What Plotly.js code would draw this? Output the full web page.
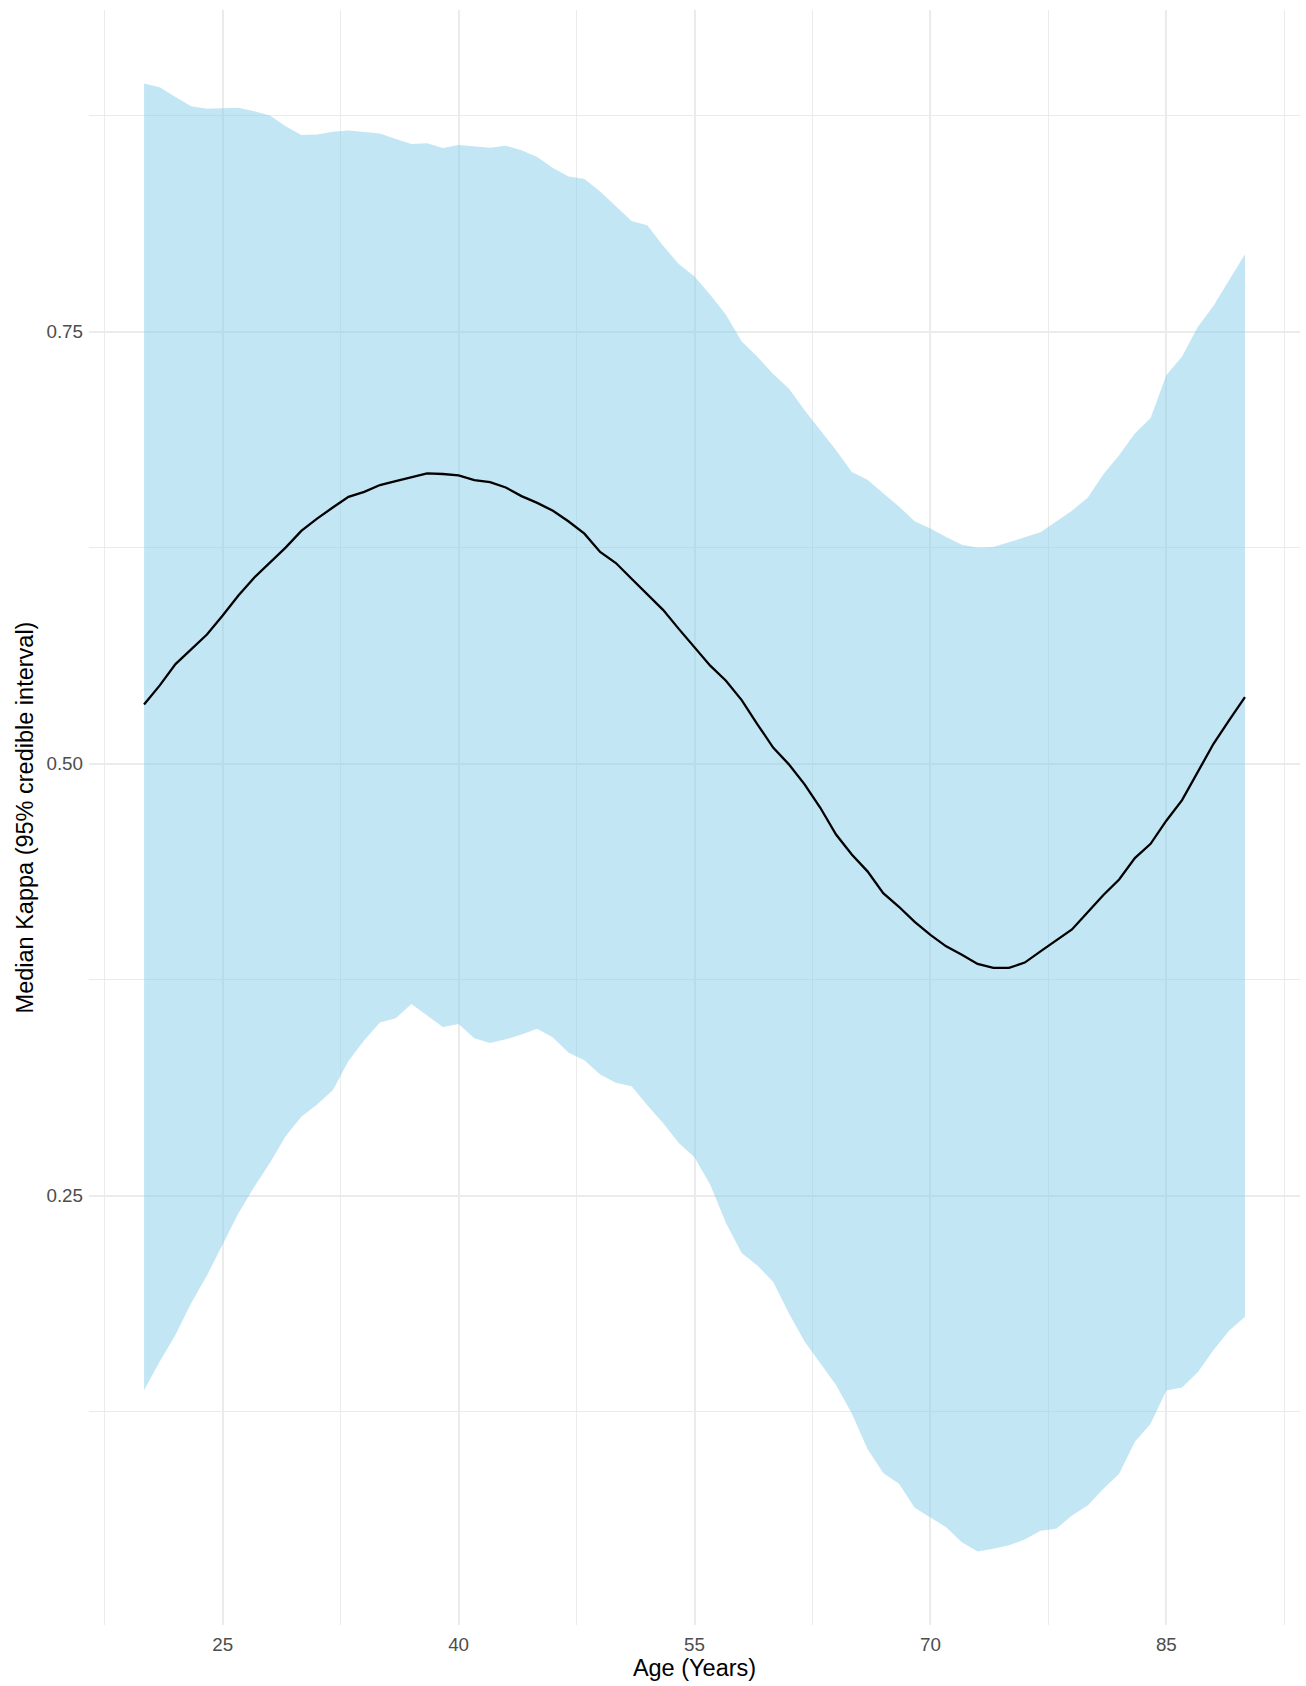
<!DOCTYPE html>
<html>
<head>
<meta charset="utf-8">
<script src="https://cdn.plot.ly/plotly-3.0.1.min.js"></script>
<style>
  html, body { margin: 0; padding: 0; background: #ffffff; }
  #chart { width: 1306px; height: 1686px; }
</style>
</head>
<body>
<div id="chart"></div>
<script>
// Age (years)
const ages = [20,21,22,23,24,25,26,27,28,29,30,31,32,33,34,35,36,37,38,39,40,
  41,42,43,44,45,46,47,48,49,50,51,52,53,54,55,56,57,58,59,60,
  61,62,63,64,65,66,67,68,69,70,71,72,73,74,75,76,77,78,79,80,
  81,82,83,84,85,86,87,88,89,90];

// Median kappa
const medianKappa = [0.5342,0.5453,0.5576,0.5660,0.5747,0.5857,0.5973,0.6076,0.6161,0.6250,0.6347,
  0.6418,0.6482,0.6544,0.6573,0.6612,0.6635,0.6656,0.6680,0.6676,0.6668,
  0.6641,0.6629,0.6598,0.6548,0.6509,0.6463,0.6401,0.6331,0.6225,0.6161,
  0.6070,0.5980,0.5890,0.5780,0.5673,0.5567,0.5480,0.5368,0.5228,0.5093,
  0.4996,0.4880,0.4745,0.4590,0.4474,0.4377,0.4251,0.4172,0.4085,0.4009,
  0.3943,0.3895,0.3841,0.3818,0.3818,0.3849,0.3914,0.3976,0.4041,0.4140,
  0.4240,0.4330,0.4454,0.4536,0.4670,0.4789,0.4950,0.5115,0.5252,0.5385];

// 95% credible interval, upper bound
const upperCI = [0.8936,0.8914,0.8858,0.8804,0.8789,0.8793,0.8795,0.8775,0.8750,0.8688,0.8638,
  0.8640,0.8657,0.8663,0.8653,0.8646,0.8615,0.8586,0.8590,0.8562,0.8580,
  0.8574,0.8564,0.8576,0.8549,0.8510,0.8446,0.8398,0.8383,0.8311,0.8224,
  0.8140,0.8115,0.7997,0.7891,0.7819,0.7713,0.7597,0.7442,0.7355,0.7254,
  0.7171,0.7045,0.6929,0.6813,0.6687,0.6643,0.6565,0.6488,0.6403,0.6361,
  0.6312,0.6267,0.6250,0.6254,0.6281,0.6310,0.6339,0.6401,0.6464,0.6538,
  0.6674,0.6784,0.6910,0.7000,0.7247,0.7356,0.7527,0.7649,0.7802,0.7947];

// 95% credible interval, lower bound
const lowerCI = [0.1374,0.1541,0.1696,0.1880,0.2038,0.2219,0.2399,0.2551,0.2690,0.2844,0.2957,
  0.3028,0.3110,0.3280,0.3400,0.3502,0.3527,0.3609,0.3545,0.3477,0.3493,
  0.3411,0.3384,0.3405,0.3433,0.3466,0.3415,0.3328,0.3284,0.3202,0.3154,
  0.3134,0.3024,0.2921,0.2805,0.2722,0.2564,0.2342,0.2168,0.2096,0.2003,
  0.1820,0.1656,0.1530,0.1405,0.1240,0.1035,0.0896,0.0834,0.0695,0.0637,
  0.0582,0.0495,0.0441,0.0457,0.0478,0.0511,0.0561,0.0573,0.0650,0.0708,
  0.0805,0.0892,0.1076,0.1180,0.1373,0.1391,0.1478,0.1608,0.1720,0.1800];

const xTickVals = [25, 40, 55, 70, 85];
const yTickVals = [0.25, 0.50, 0.75];
const yTickText = ["0.25", "0.50", "0.75"];

// ggplot-like 5% expansion
function expand(lo, hi) { const d = (hi - lo) * 0.05; return [lo - d, hi + d]; }
const xRange = expand(Math.min(...ages), Math.max(...ages));
const yRange = expand(Math.min(...lowerCI), Math.max(...upperCI));

const FONT = "Liberation Sans, Arial, Helvetica, sans-serif";
const GRID = "#EBEBEB";
const TICK_SIZE = 18.8;
const TITLE_SIZE = 23.5;

const traces = [
  { x: ages, y: lowerCI, type: "scatter", mode: "lines",
    line: { width: 0, color: "rgba(0,0,0,0)" }, hoverinfo: "skip", showlegend: false },
  { x: ages, y: upperCI, type: "scatter", mode: "lines", fill: "tonexty",
    fillcolor: "rgba(135,206,235,0.5)",
    line: { width: 0, color: "rgba(0,0,0,0)" }, hoverinfo: "skip", showlegend: false },
  { x: ages, y: medianKappa, type: "scatter", mode: "lines",
    line: { color: "#000000", width: 2.3 }, showlegend: false }
];

const layout = {
  width: 1306, height: 1686,
  margin: { l: 89, r: 6, t: 10, b: 61, pad: 0 },
  paper_bgcolor: "#ffffff", plot_bgcolor: "#ffffff",
  font: { family: FONT, color: "#000000" },
  showlegend: false,
  xaxis: {
    range: xRange,
    tickmode: "array", tickvals: xTickVals,
    tickfont: { size: TICK_SIZE, color: "#4D4D4D", family: FONT },
    ticks: "", showline: false, zeroline: false,
    ticklabelstandoff: 6,
    showgrid: true, gridcolor: GRID, gridwidth: 2,
    minor: { tickmode: "linear", tick0: 17.5, dtick: 7.5, showgrid: true, gridcolor: GRID, gridwidth: 1.2, ticks: "" },
    title: { text: "Age (Years)", font: { size: TITLE_SIZE, color: "#000000", family: FONT }, standoff: 2 },
    automargin: false
  },
  yaxis: {
    range: yRange,
    tickmode: "array", tickvals: yTickVals, ticktext: yTickText,
    tickfont: { size: TICK_SIZE, color: "#4D4D4D", family: FONT },
    ticks: "", showline: false, zeroline: false,
    ticklabelstandoff: 5,
    showgrid: true, gridcolor: GRID, gridwidth: 2,
    minor: { tickmode: "linear", tick0: 0.125, dtick: 0.25, showgrid: true, gridcolor: GRID, gridwidth: 1.2, ticks: "" },
    title: { text: "Median Kappa (95% credible interval)", font: { size: TITLE_SIZE, color: "#000000", family: FONT }, standoff: 6 },
    automargin: false
  }
};

Plotly.newPlot("chart", traces, layout, { staticPlot: true, displayModeBar: false });
</script>
</body>
</html>
